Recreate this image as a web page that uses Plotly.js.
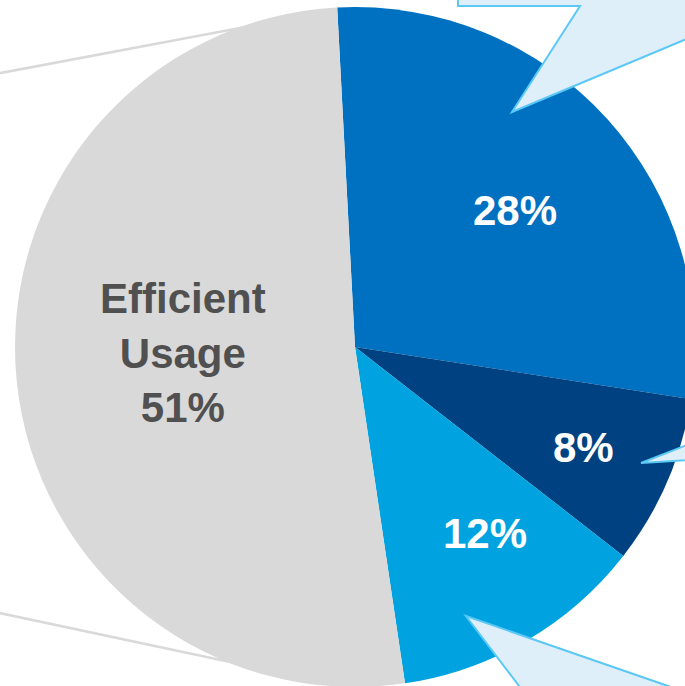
<!DOCTYPE html>
<html>
<head>
<meta charset="utf-8">
<script src="https://cdn.plot.ly/plotly-3.0.1.min.js"></script>
<style>
html,body{margin:0;padding:0;overflow:hidden;background:#fff;}
#chart{width:720px;height:720px;}
</style>
</head>
<body>
<div id="chart"></div>
<script>
// Data
const labels = ["Segment A", "Segment B", "Segment C", "Efficient<br>Usage"];
const values = [28, 8, 12, 51];
const colors = ["#0070C0", "#004281", "#00A3E0", "#D9D9D9"];
const textColors = ["#FFFFFF", "#FFFFFF", "#FFFFFF", "#505050"];
const showLabel = [false, false, false, true];
// label placement style: radial fraction and small pixel nudges
const labelRadius = [0.62, 0.73, 0.67, 0.5];
const labelDX = [4, 1, 15, -3];
const labelDY = [-5, -2, 10, 11];

const W = 720, H = 720;
const CX = 355, CY = 347, R = 340, ROT = -3;
function P(x, y) { return [(x / W).toFixed(4), ((H - y) / H).toFixed(4)]; }
function pathFrom(pts) {
  return pts.map((p, i) => (i ? "L" : "M") + P(p[0], p[1]).join(",")).join(" ") + " Z";
}
function lineFrom(pts) {
  return pts.map((p, i) => (i ? "L" : "M") + P(p[0], p[1]).join(",")).join(" ");
}

const calloutFill = "#DFEFFA";
const calloutLine = "#5BC8F5";

const shapes = [
  {type: "path", xref: "paper", yref: "paper", layer: "below",
   path: lineFrom([[-10, 75], [320, 13]]), line: {color: "#D9D9D9", width: 2.5}},
  {type: "path", xref: "paper", yref: "paper", layer: "below",
   path: lineFrom([[-10, 611], [320, 681]]), line: {color: "#D9D9D9", width: 2.5}},
  {type: "path", xref: "paper", yref: "paper", layer: "above",
   path: pathFrom([[458, -20], [458, 6], [580, 6], [512, 112], [720, 25], [720, -20]]),
   fillcolor: calloutFill, line: {color: calloutLine, width: 2}},
  {type: "path", xref: "paper", yref: "paper", layer: "above",
   path: pathFrom([[641, 463], [720, 432], [720, 458]]),
   fillcolor: calloutFill, line: {color: calloutLine, width: 2}},
  {type: "path", xref: "paper", yref: "paper", layer: "above",
   path: pathFrom([[466, 616], [720, 704], [720, 740], [560, 740]]),
   fillcolor: calloutFill, line: {color: calloutLine, width: 2}}
];

// labels placed at each slice's mid-angle, derived from the values
const total = values.reduce((a, b) => a + b, 0);
let cum = 0;
const annotations = values.map((v, i) => {
  const mid = (ROT + 360 * (cum + v / 2) / total) * Math.PI / 180;
  cum += v;
  const r = R * labelRadius[i];
  const px = CX + r * Math.sin(mid);
  const py = CY - r * Math.cos(mid);
  const p = P(px, py);
  return {
    xref: "paper", yref: "paper", x: +p[0], y: +p[1],
    xshift: labelDX[i], yshift: labelDY[i],
    xanchor: "center", yanchor: "middle", showarrow: false,
    text: (showLabel[i] ? labels[i] + "<br>" : "") + v + "%",
    font: {family: "Liberation Sans, Arial, sans-serif", size: 42, color: textColors[i], weight: "bold"}
  };
});

const trace = {
  type: "pie",
  labels: labels,
  values: values,
  sort: false,
  direction: "clockwise",
  rotation: ROT,
  marker: {colors: colors, line: {width: 0}},
  textinfo: "none",
  hoverinfo: "none",
  showlegend: false,
  domain: {x: [(CX - R) / W, (CX + R) / W], y: [(H - CY - R) / H, (H - CY + R) / H]}
};

Plotly.newPlot("chart", [trace], {
  width: W, height: H,
  margin: {l: 0, r: 0, t: 0, b: 0},
  paper_bgcolor: "#FFFFFF",
  showlegend: false,
  shapes: shapes,
  annotations: annotations
}, {staticPlot: true, displayModeBar: false});
</script>
</body>
</html>
